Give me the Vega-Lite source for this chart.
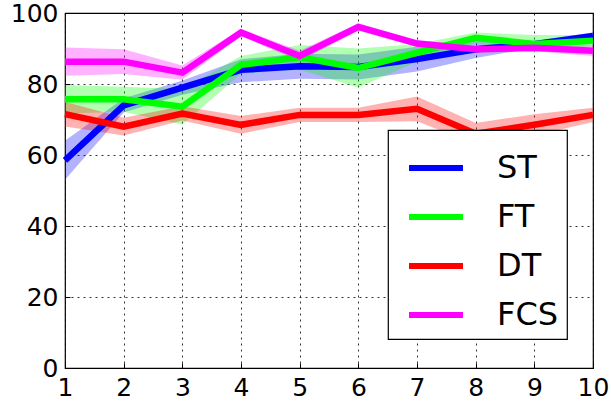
{
  "$schema": "https://vega.github.io/schema/vega-lite/v6.json",
  "width": 528,
  "height": 355,
  "autosize": "none",
  "padding": {"left": 65, "top": 13, "right": 18, "bottom": 36},
  "background": "white",
  "config": {
    "font": "DejaVu Sans",
    "view": {"stroke": "black", "strokeWidth": 1.2},
    "legend": {
      "strokeColor": "black",
      "strokeWidth": 1.2,
      "fillColor": "white",
      "padding": 8
    },
    "axis": {
      "labelFont": "DejaVu Sans",
      "labelFontSize": 25,
      "labelColor": "black",
      "domain": false,
      "ticks": true,
      "tickSize": -5,
      "tickColor": "black",
      "grid": true,
      "gridColor": "black",
      "gridDash": [2, 4],
      "gridOpacity": 0.8,
      "gridWidth": 1,
      "title": null
    }
  },
  "data": {
    "values": [
      {"x": 1, "series": "ST", "y": 58.5, "lo": 53, "hi": 64},
      {"x": 2, "series": "ST", "y": 74, "lo": 72, "hi": 76},
      {"x": 3, "series": "ST", "y": 79, "lo": 77, "hi": 81},
      {"x": 4, "series": "ST", "y": 84, "lo": 80.5, "hi": 87},
      {"x": 5, "series": "ST", "y": 85, "lo": 81.5, "hi": 88.5},
      {"x": 6, "series": "ST", "y": 84.8, "lo": 81.3, "hi": 88.3},
      {"x": 7, "series": "ST", "y": 87, "lo": 83.5, "hi": 90.5},
      {"x": 8, "series": "ST", "y": 89.8, "lo": 87.3, "hi": 92.3},
      {"x": 9, "series": "ST", "y": 91.2, "lo": 90.2, "hi": 92.2},
      {"x": 10, "series": "ST", "y": 93.5, "lo": 92.5, "hi": 94.5},
      {"x": 1, "series": "FT", "y": 75.7, "lo": 71.7, "hi": 79.7},
      {"x": 2, "series": "FT", "y": 75.7, "lo": 72.2, "hi": 79.2},
      {"x": 3, "series": "FT", "y": 73.6, "lo": 68.6, "hi": 78.6},
      {"x": 4, "series": "FT", "y": 85.4, "lo": 82.9, "hi": 87.9},
      {"x": 5, "series": "FT", "y": 87.5, "lo": 84, "hi": 91},
      {"x": 6, "series": "FT", "y": 84.5, "lo": 79, "hi": 90},
      {"x": 7, "series": "FT", "y": 88.8, "lo": 86.3, "hi": 91.3},
      {"x": 8, "series": "FT", "y": 93, "lo": 91.5, "hi": 94.5},
      {"x": 9, "series": "FT", "y": 91.3, "lo": 88.8, "hi": 93.8},
      {"x": 10, "series": "FT", "y": 92.2, "lo": 90.7, "hi": 93.7},
      {"x": 1, "series": "DT", "y": 71.5, "lo": 68, "hi": 75},
      {"x": 2, "series": "DT", "y": 68, "lo": 65.5, "hi": 70.5},
      {"x": 3, "series": "DT", "y": 71.7, "lo": 69.7, "hi": 73.7},
      {"x": 4, "series": "DT", "y": 68.5, "lo": 66, "hi": 71},
      {"x": 5, "series": "DT", "y": 71.3, "lo": 69.3, "hi": 73.3},
      {"x": 6, "series": "DT", "y": 71.3, "lo": 69.3, "hi": 73.3},
      {"x": 7, "series": "DT", "y": 73, "lo": 69.5, "hi": 76.5},
      {"x": 8, "series": "DT", "y": 66, "lo": 63, "hi": 69},
      {"x": 9, "series": "DT", "y": 68.5, "lo": 65.5, "hi": 71.5},
      {"x": 10, "series": "DT", "y": 71.3, "lo": 69.3, "hi": 73.3},
      {"x": 1, "series": "FCS", "y": 86.3, "lo": 82.3, "hi": 90.3},
      {"x": 2, "series": "FCS", "y": 86.3, "lo": 82.8, "hi": 89.8},
      {"x": 3, "series": "FCS", "y": 83.2, "lo": 81.2, "hi": 85.2},
      {"x": 4, "series": "FCS", "y": 94.5, "lo": 93.5, "hi": 95.5},
      {"x": 5, "series": "FCS", "y": 87.9, "lo": 86.4, "hi": 89.4},
      {"x": 6, "series": "FCS", "y": 96.1, "lo": 95.1, "hi": 97.1},
      {"x": 7, "series": "FCS", "y": 91.4, "lo": 90.4, "hi": 92.4},
      {"x": 8, "series": "FCS", "y": 89.8, "lo": 88.8, "hi": 90.8},
      {"x": 9, "series": "FCS", "y": 90.2, "lo": 89.2, "hi": 91.2},
      {"x": 10, "series": "FCS", "y": 89.4, "lo": 87.9, "hi": 90.9}
    ]
  },
  "encoding": {
    "x": {
      "field": "x",
      "type": "quantitative",
      "scale": {"domain": [1, 10], "nice": false, "zero": false},
      "axis": {"values": [1, 2, 3, 4, 5, 6, 7, 8, 9, 10], "labelPadding": 12, "labelFlush": false}
    },
    "y": {
      "type": "quantitative",
      "scale": {"domain": [0, 100], "nice": false},
      "axis": {"values": [0, 20, 40, 60, 80, 100], "labelPadding": 12}
    },
    "color": {
      "field": "series",
      "type": "nominal",
      "scale": {
        "domain": ["ST", "FT", "DT", "FCS"],
        "range": ["#0000ff", "#00ff00", "#ff0000", "#ff00ff"]
      },
      "legend": {
        "orient": "none",
        "legendX": 323,
        "legendY": 117,
        "title": null,
        "symbolType": "stroke",
        "symbolSize": 2916,
        "symbolStrokeWidth": 6,
        "symbolOpacity": 1,
        "symbolOffset": 10,
        "labelFont": "DejaVu Sans",
        "labelFontSize": 32,
        "labelColor": "black",
        "labelOffset": 31,
        "labelExpr": "datum.label + '\u00a0\u00a0\u2009'",
        "rowPadding": 3
      }
    }
  },
  "layer": [
    {
      "mark": {"type": "area", "opacity": 0.3},
      "encoding": {
        "y": {"field": "lo"},
        "y2": {"field": "hi"}
      }
    },
    {
      "mark": {"type": "line", "strokeWidth": 6.5},
      "encoding": {
        "y": {"field": "y"}
      }
    }
  ]
}
